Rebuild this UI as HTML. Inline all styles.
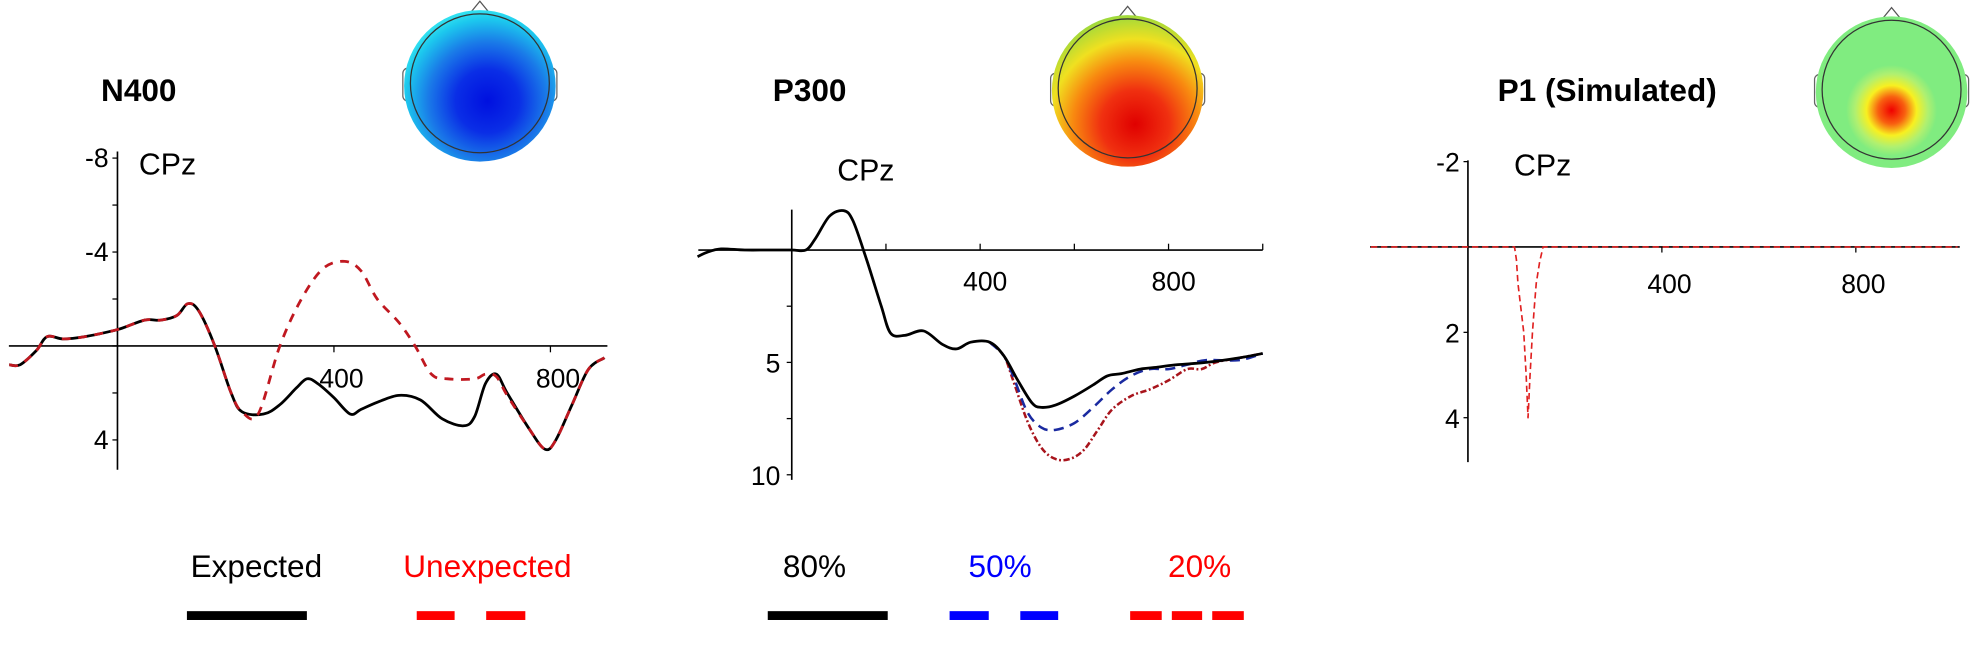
<!DOCTYPE html>
<html><head><meta charset="utf-8">
<style>
html,body{margin:0;padding:0;background:#fff;overflow:hidden;}
svg{display:block;font-family:"Liberation Sans",sans-serif;}
</style></head>
<body>
<svg id="fig" width="1980" height="646" viewBox="0 0 1568 511.6" xmlns="http://www.w3.org/2000/svg">
<defs>
  <radialGradient id="gN400" cx="0.55" cy="0.6" r="0.6">
    <stop offset="0" stop-color="#0010e0"/><stop offset="0.35" stop-color="#0a2ee6"/>
    <stop offset="0.65" stop-color="#1a7ae8"/><stop offset="0.9" stop-color="#1cc8ee"/><stop offset="1" stop-color="#30e0f0"/>
  </radialGradient>
  <radialGradient id="gP300" cx="0.55" cy="0.72" r="0.75">
    <stop offset="0" stop-color="#e00000"/><stop offset="0.3" stop-color="#f03010"/>
    <stop offset="0.55" stop-color="#f88a10"/><stop offset="0.75" stop-color="#f0e020"/><stop offset="1" stop-color="#90d840"/>
  </radialGradient>
  <radialGradient id="gP1" cx="0.5" cy="0.62" r="0.3">
    <stop offset="0" stop-color="#f00000"/><stop offset="0.3" stop-color="#f86010"/>
    <stop offset="0.55" stop-color="#f8f020"/><stop offset="0.8" stop-color="#b0f070"/><stop offset="1" stop-color="#80ec80"/>
  </radialGradient>
</defs>
<g id="plots"></g>
</svg>
<script>
// ---- N400 data ----
const n400Times = [-200,-180,-150,-130,-100,-60,0,50,80,110,130,150,180,210,230,270,300,330,350,370,400,430,450,480,520,560,600,640,660,680,700,720,760,790,810,840,870,900];
const n400Expected = [0.8,0.8,0.2,-0.4,-0.3,-0.4,-0.7,-1.1,-1.1,-1.3,-1.8,-1.5,0,2.0,2.8,2.9,2.5,1.8,1.4,1.6,2.2,2.9,2.7,2.4,2.1,2.3,3.1,3.4,3.0,1.6,1.2,2.0,3.5,4.4,4.0,2.5,1.0,0.5];
const n400UnexpTimes = [-200,-180,-150,-130,-100,-60,0,50,80,110,130,150,180,210,230,260,300,340,380,420,450,480,520,550,580,610,660,680,700,720,760,790,810,840,870,900];
const n400Unexpected = [0.8,0.8,0.2,-0.4,-0.3,-0.4,-0.7,-1.1,-1.1,-1.3,-1.8,-1.5,0,2.0,2.8,2.9,0,-2.0,-3.3,-3.6,-3.2,-2.0,-1.0,0,1.2,1.4,1.4,1.2,1.3,2.1,3.5,4.4,4.0,2.5,1.0,0.5];
const n400YTicks = [-8,-6,-4,-2,0,2,4];
const n400YLabels = [-8,-4,4];
const n400XLabels = [400,800];
// ---- P300 data ----
const p300Times = [-200,-180,-150,-100,-50,0,30,50,80,110,130,160,190,210,240,280,320,350,380,420,450,480,510,530,560,600,640,670,700,740,780,820,880,950,1000];
const p300_80 = [0.3,0.1,-0.05,0,0,0,0,-0.5,-1.5,-1.75,-1.3,0.5,2.5,3.7,3.8,3.6,4.2,4.4,4.1,4.1,4.7,5.8,6.8,7.0,6.9,6.5,6.0,5.6,5.5,5.3,5.2,5.1,5.0,4.8,4.6];
const p300Times50 = [420,450,470,500,530,560,600,640,680,720,760,800,840,880,950,1000];
const p300_50 = [4.1,4.7,5.6,7.2,7.9,8.0,7.7,7.0,6.2,5.6,5.3,5.3,5.1,4.9,4.9,4.6];
const p300Times20 = [420,450,470,500,530,560,590,620,650,680,720,760,800,840,870,900,950,1000];
const p300_20 = [4.1,4.7,5.8,7.6,8.8,9.3,9.3,8.9,8.0,7.1,6.5,6.2,5.8,5.3,5.3,5.0,4.8,4.6];
const p300XTicks = [200,400,600,800,1000];
const p300YTicks = [2.5,5,7.5,10];
const p300YLabels = [5,10];
const p300XLabels = [400,800];
// ---- P1 data ----
const p1Times = [-200,0,96,100,103,110,115,120,124,128,133,137,141,148,155,400,800,1010];
const p1Values = [0,0,0,0.3,0.85,1.5,2.0,3.0,4.0,3.0,2.0,1.4,0.85,0.35,0,0,0,0];
const p1YTicks = [-2,2,4];
const p1XTicks = [400,800];

const NS='http://www.w3.org/2000/svg';
const root=document.getElementById('plots');
function mk(tag,attrs,parent){const e=document.createElementNS(NS,tag);for(const k in attrs)e.setAttribute(k,attrs[k]);(parent||root).appendChild(e);return e;}
function smooth(pts){let d='M'+pts[0][0].toFixed(1)+','+pts[0][1].toFixed(1);
 for(let i=0;i<pts.length-1;i++){const p0=pts[i-1]||pts[i],p1=pts[i],p2=pts[i+1],p3=pts[i+2]||p2;
  const c1=[p1[0]+(p2[0]-p0[0])/6,p1[1]+(p2[1]-p0[1])/6],c2=[p2[0]-(p3[0]-p1[0])/6,p2[1]-(p3[1]-p1[1])/6];
  d+=' C'+c1[0].toFixed(1)+','+c1[1].toFixed(1)+' '+c2[0].toFixed(1)+','+c2[1].toFixed(1)+' '+p2[0].toFixed(1)+','+p2[1].toFixed(1);}
 return d;}
function linear(pts){return 'M'+pts.map(p=>p[0].toFixed(1)+','+p[1].toFixed(1)).join(' L');}
function series(ts,vs,X,Y){return ts.map((t,i)=>[X(t),Y(vs[i])]);}
function txt(s,x,y,size,attrs){const e=mk('text',Object.assign({x:x,y:y,'font-size':size},attrs||{}));e.textContent=s;return e;}

// Heads
function head(cx,cy,r,grad,name){
 const g=mk('g',{});
 
 
 mk('path',{d:`M${cx-9},${cy-r+3} L${cx},${cy-r-8} L${cx+9},${cy-r+3}`,fill:'none',stroke:'#555','stroke-width':1},g);
 mk('rect',{x:cx-r-4,y:cy-12,width:8,height:26,rx:4,fill:'#fff',stroke:'#666','stroke-width':1},g);
 mk('rect',{x:cx+r-4,y:cy-12,width:8,height:26,rx:4,fill:'#fff',stroke:'#666','stroke-width':1},g);
 mk('circle',{cx:cx,cy:cy+2,r:r+3,fill:'url(#'+grad+')'},g);
 mk('circle',{cx:cx,cy:cy,r:r-2,fill:'none',stroke:'#333','stroke-width':1},g);
}
head(380,66,57,'gN400','n400-topomap');
head(893,70,57,'gP300','p300-topomap');
head(1498,71,57,'gP1','p1-topomap');

// Titles
const t1=txt('N400',80,80,25,{'font-weight':'bold'});


const t2=txt('P300',612,80,25,{'font-weight':'bold'});


const t3=txt('P1 (Simulated)',1186,80,25,{'font-weight':'bold'});



// ---------- N400 panel ----------
{const X=t=>93+t*0.4286, Y=v=>274+v*18.6;
 const g=mk('g',{});
 
 
 mk('line',{x1:93,y1:120,x2:93,y2:372,stroke:'#000','stroke-width':1.3},g);
 mk('line',{x1:7,y1:274,x2:481,y2:274,stroke:'#000','stroke-width':1.3},g);
 n400YTicks.forEach(v=>mk('line',{x1:89,y1:Y(v),x2:93,y2:Y(v),stroke:'#000'},g));
 [400,800].forEach(t=>mk('line',{x1:X(t),y1:274,x2:X(t),y2:279,stroke:'#000'},g));
 n400YLabels.forEach(v=>{const e=txt(String(v),86,Y(v)+7,21,{'text-anchor':'end'});g.appendChild(e);
  
  });
 n400XLabels.forEach(t=>{const e=txt(String(t),X(t)+6,307,21,{'text-anchor':'middle'});g.appendChild(e);
  
  });
 const c=txt('CPz',110,138,24,{});g.appendChild(c);
 
 
 const pe=mk('path',{d:smooth(series(n400Times,n400Expected,X,Y)),fill:'none',stroke:'#000','stroke-width':2.2},g);
 
 
 const pu=mk('path',{d:smooth(series(n400UnexpTimes,n400Unexpected,X,Y)),fill:'none',stroke:'#c01820','stroke-width':2.2,'stroke-dasharray':'7 6'},g);
 
 
}

// ---------- P300 panel ----------
{const X=t=>627+t*0.373, Y=v=>198+v*17.8;
 const g=mk('g',{});
 
 
 mk('line',{x1:627,y1:166,x2:627,y2:380,stroke:'#000','stroke-width':1.3},g);
 mk('line',{x1:553,y1:198,x2:1000,y2:198,stroke:'#000','stroke-width':1.3},g);
 p300XTicks.forEach(t=>mk('line',{x1:X(t),y1:193,x2:X(t),y2:198,stroke:'#000'},g));
 p300YTicks.forEach(v=>mk('line',{x1:623,y1:Y(v),x2:627,y2:Y(v),stroke:'#000'},g));
 p300YLabels.forEach(v=>{const e=txt(String(v),618,Y(v)+8,21,{'text-anchor':'end'});g.appendChild(e);
  
  });
 p300XLabels.forEach(t=>{const e=txt(String(t),X(t)+4,230,21,{'text-anchor':'middle'});g.appendChild(e);
  
  });
 const c=txt('CPz',663,143,24,{});g.appendChild(c);
 
 
 const p20=mk('path',{d:smooth(series(p300Times20,p300_20,X,Y)),fill:'none',stroke:'#a8141c','stroke-width':2,'stroke-dasharray':'5 2 1.5 2'},g);
 
 
 const p50=mk('path',{d:smooth(series(p300Times50,p300_50,X,Y)),fill:'none',stroke:'#1a2aa0','stroke-width':2,'stroke-dasharray':'8 5'},g);
 
 
 const p80=mk('path',{d:smooth(series(p300Times,p300_80,X,Y)),fill:'none',stroke:'#000','stroke-width':2.2},g);
 
 
}

// ---------- P1 panel ----------
{const X=t=>1162.5+t*0.384, Y=v=>195.6+v*33.8;
 const g=mk('g',{});
 
 
 mk('line',{x1:1162.5,y1:127,x2:1162.5,y2:366,stroke:'#000','stroke-width':1.3},g);
 mk('line',{x1:1085,y1:195.6,x2:1552,y2:195.6,stroke:'#000','stroke-width':1.3},g);
 p1YTicks.forEach(v=>mk('line',{x1:1159,y1:Y(v),x2:1162.5,y2:Y(v),stroke:'#000'},g));
 p1XTicks.forEach(t=>mk('line',{x1:X(t),y1:195.6,x2:X(t),y2:200,stroke:'#000'},g));
 p1YTicks.forEach(v=>{const e=txt(String(v),1156,Y(v)+8,21,{'text-anchor':'end'});g.appendChild(e);
  
  });
 p1XTicks.forEach(t=>{const e=txt(String(t),X(t)+6,232,21,{'text-anchor':'middle'});g.appendChild(e);
  
  });
 const c=txt('CPz',1199,139,24,{});g.appendChild(c);
 
 
 const p=mk('path',{d:linear(series(p1Times,p1Values,X,Y)),fill:'none',stroke:'#e02020','stroke-width':1.3,'stroke-dasharray':'5 3','stroke-linejoin':'round'},g);
 
 
}

// ---------- Legends ----------
function legend(label,color,cx,name){const e=txt(label,cx,457,25,{'text-anchor':'middle',fill:color});
 
 
 return e;}
legend('Expected','#000',203,'legend-expected');
legend('Unexpected','#f00',386,'legend-unexpected');
legend('80%','#000',645,'legend-80pct');
legend('50%','#00f',792,'legend-50pct');
legend('20%','#f00',950,'legend-20pct');
function bar(x1,x2,color,name){const r=mk('rect',{x:x1,y:484,width:x2-x1,height:7,fill:color});
 
 }
bar(148,243,'#000','legend-swatch-expected');
bar(330,360,'#f00','legend-swatch-unexpected');
bar(385,416,'#f00','legend-swatch-unexpected');
bar(608,703,'#000','legend-swatch-80pct');
bar(752,783,'#00f','legend-swatch-50pct');
bar(808,838,'#00f','legend-swatch-50pct');
bar(895,920,'#f00','legend-swatch-20pct');
bar(928,952,'#f00','legend-swatch-20pct');
bar(960,985,'#f00','legend-swatch-20pct');
</script>
</body></html>
